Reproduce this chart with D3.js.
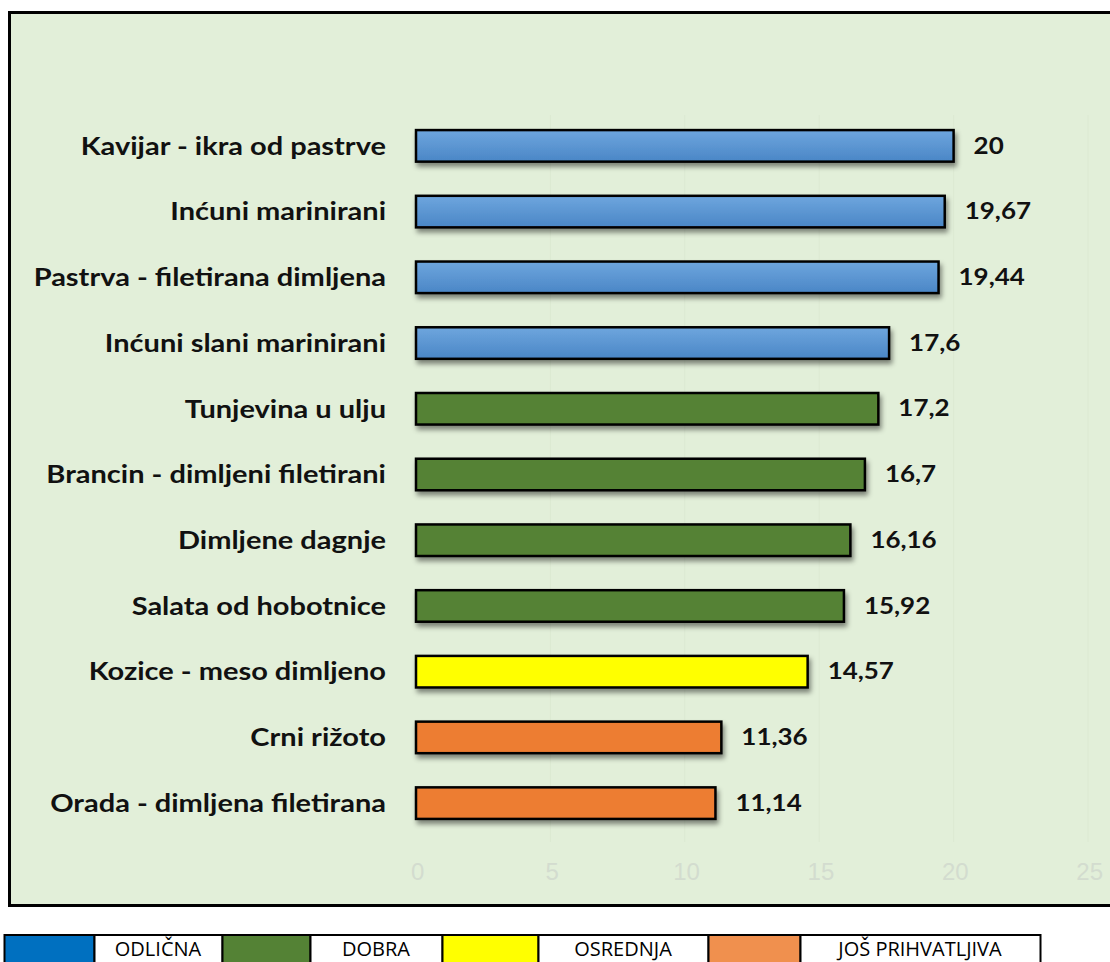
<!DOCTYPE html>
<html><head><meta charset="utf-8">
<script src="https://cdn.jsdelivr.net/npm/d3@7"></script>
<style>html,body{margin:0;padding:0;background:#fff;}svg{display:block;}</style>
</head><body>
<svg id="c" width="1110" height="962"></svg>
<script>
const categories = ["Kavijar - ikra od pastrve","Inćuni marinirani","Pastrva - filetirana dimljena","Inćuni slani marinirani","Tunjevina u ulju","Brancin - dimljeni filetirani","Dimljene dagnje","Salata od hobotnice","Kozice - meso dimljeno","Crni rižoto","Orada - dimljena filetirana"];
const values = [20,19.67,19.44,17.6,17.2,16.7,16.16,15.92,14.57,11.36,11.14];
const grades = ["ODLIČNA","ODLIČNA","ODLIČNA","ODLIČNA","DOBRA","DOBRA","DOBRA","DOBRA","OSREDNJA","JOŠ PRIHVATLJIVA","JOŠ PRIHVATLJIVA"];
const tickValues = [0,5,10,15,20,25];
const legendLabels = ["ODLIČNA","DOBRA","OSREDNJA","JOŠ PRIHVATLJIVA"];
const barColors = {"ODLIČNA":["#6ea6de","#4a86c6"],"DOBRA":["#548235","#548235"],"OSREDNJA":["#ffff00","#ffff00"],"JOŠ PRIHVATLJIVA":["#ed7d31","#ed7d31"]};
const legendColors = ["#0070c0","#548235","#ffff00","#f0904e"];

const svg = d3.select("#c");
const defs = svg.append("defs");
Object.entries(barColors).forEach(([k,c],i)=>{
  const g = defs.append("linearGradient").attr("id","g"+i).attr("x1",0).attr("y1",0).attr("x2",0).attr("y2",1);
  g.append("stop").attr("offset","0%").attr("stop-color",c[0]);
  g.append("stop").attr("offset","100%").attr("stop-color",c[1]);
});
const gradIdx = k => Object.keys(barColors).indexOf(k);
const f = defs.append("filter").attr("id","sh").attr("x","-5%").attr("y","-30%").attr("width","115%").attr("height","180%");
f.append("feDropShadow").attr("dx",2).attr("dy",4).attr("stdDeviation",2.5).attr("flood-color","#000").attr("flood-opacity",0.45);

// frame
svg.append("rect").attr("x",9.5).attr("y",12.5).attr("width",1120).attr("height",893)
  .attr("fill","#e2efd9").attr("stroke","#000").attr("stroke-width",3);

const x = d3.scaleLinear().domain([0,25]).range([416,1088]);
const y = d3.scaleBand().domain(categories).range([113,836]).paddingInner(0.52).paddingOuter(0.26);

// grid
svg.append("g").selectAll("line").data(tickValues.slice(1)).join("line")
  .attr("x1",d=>x(d)).attr("x2",d=>x(d)).attr("y1",115).attr("y2",842)
  .attr("stroke","#dce9d2").attr("stroke-width",1);

// axis labels
const ax = svg.append("g").attr("transform","translate(0,872)")
  .call(d3.axisBottom(x).tickValues(tickValues).tickSize(0).tickPadding(0));
ax.select(".domain").remove();
ax.selectAll("text").attr("fill","#d3dccf").attr("font-family","'Liberation Sans Narrow', sans-serif")
  .attr("font-size",24).attr("y",0).attr("dy","0.35em").attr("dx","0.05em");

// bars
svg.append("g").selectAll("rect").data(categories).join("rect")
  .attr("x",x(0)).attr("y",d=>y(d)).attr("width",(d,i)=>x(values[i])-x(0)).attr("height",y.bandwidth())
  .attr("fill",(d,i)=>`url(#g${gradIdx(grades[i])})`).attr("stroke","#000").attr("stroke-width",2.5)
  .attr("filter","url(#sh)");

// category labels (horizontally stretched like the source)
svg.append("g").selectAll("text").data(categories).join("text")
  .attr("transform",d=>`translate(386,${y(d)+y.bandwidth()/2}) scale(1.16,1)`)
  .attr("dy","0.35em").attr("text-anchor","end")
  .attr("font-family","Lato, sans-serif").attr("font-weight","bold").attr("font-size",25).attr("fill","#111")
  .text(d=>d);

// value labels
svg.append("g").selectAll("text").data(categories).join("text")
  .attr("transform",(d,i)=>`translate(${x(values[i])+20},${y(d)+y.bandwidth()/2}) scale(1.18,1)`)
  .attr("dy","0.35em")
  .attr("font-family","Lato, sans-serif").attr("font-weight","bold").attr("font-size",22).attr("fill","#111")
  .text((d,i)=>String(values[i]).replace(".",","));

// legend
const cellX = [4,94,222,310,442,538,708,800,1040];
const lg = svg.append("g");
for (let i=0;i<8;i++){
  const isColor = i%2===0, k = Math.floor(i/2);
  lg.append("rect").attr("x",cellX[i]+0.5).attr("y",935).attr("width",cellX[i+1]-cellX[i]).attr("height",40)
    .attr("fill",isColor?legendColors[k]:"#fff").attr("stroke","#000").attr("stroke-width",2);
  if(!isColor){
    lg.append("text").attr("x",(cellX[i]+cellX[i+1])/2).attr("y",956).attr("text-anchor","middle")
      .attr("font-family","'Open Sans',sans-serif").attr("font-size",20).attr("fill","#000")
      .text(legendLabels[k]);
  }
}
</script>
</body></html>
